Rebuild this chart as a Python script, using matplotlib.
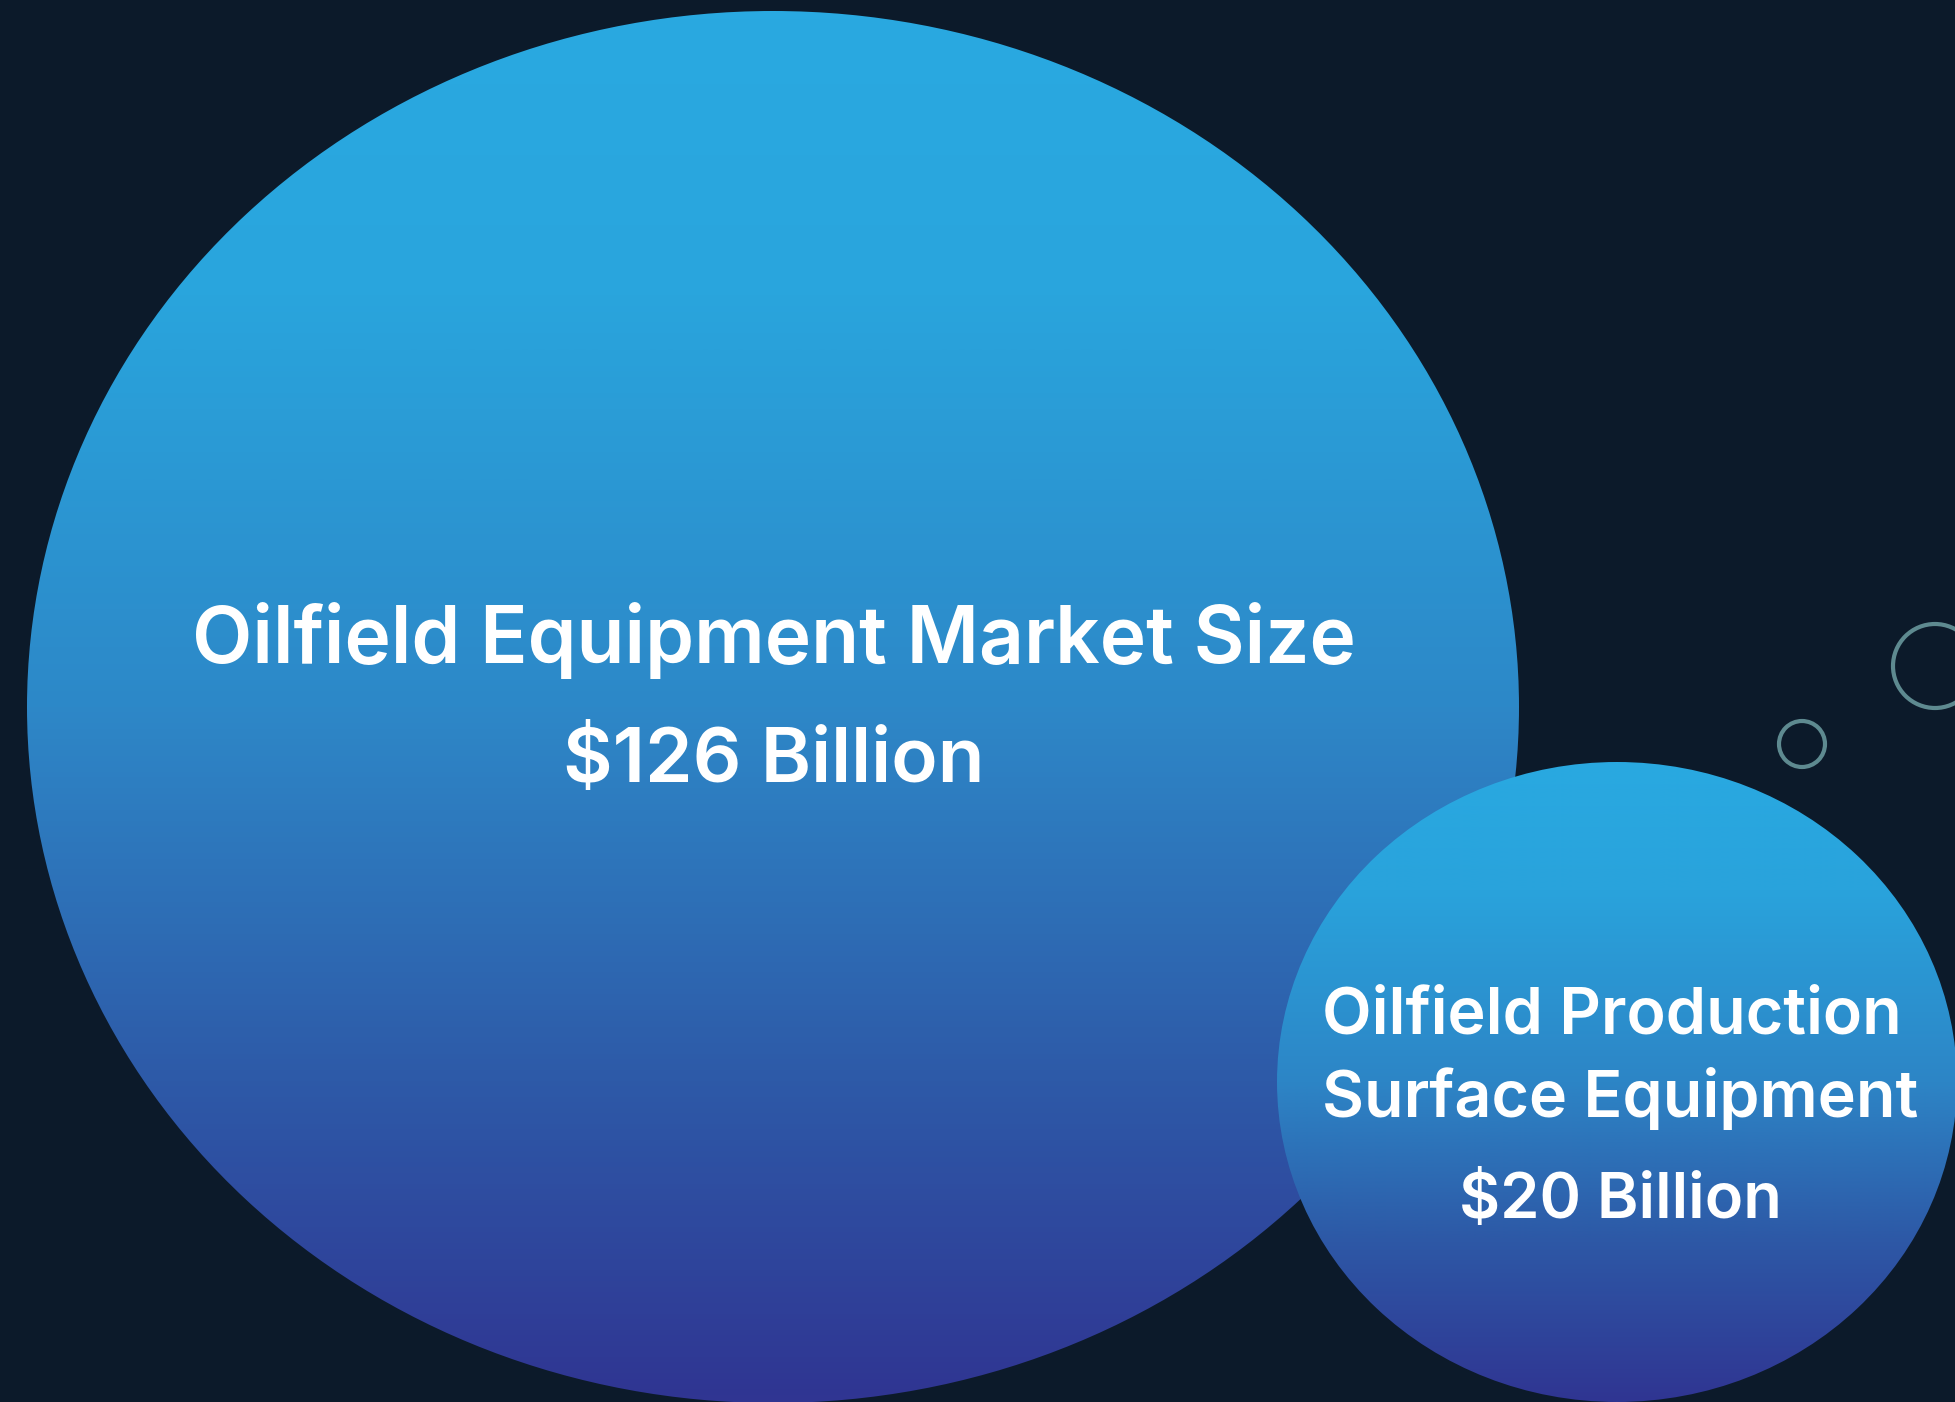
import numpy as np
import matplotlib
matplotlib.use("Agg")
import matplotlib.pyplot as plt
from matplotlib.patches import Ellipse
from matplotlib.colors import LinearSegmentedColormap

# ---- data ----
segments = ["Oilfield Equipment Market Size", "Oilfield Production\nSurface Equipment"]
values_bn = [126, 20]
value_labels = [f"${v} Billion" for v in values_bn]

# ---- style / layout ----
W, H = 1955, 1402
BG = "#0C1A2A"
grad = LinearSegmentedColormap.from_list(
    "g", [(0.0, "#29A9E1"), (0.2, "#29A5DD"), (0.5, "#2D88C8"),
          (0.75, "#2D5DAA"), (1.0, "#303592")])
grad_small = LinearSegmentedColormap.from_list(
    "g2", [(0.0, "#29A9E1"), (0.2, "#29A3DC"), (0.5, "#2D85C6"),
           (0.75, "#2D58A6"), (1.0, "#303592")])

fig = plt.figure(figsize=(W / 100, H / 100), dpi=100, facecolor=BG)
ax = fig.add_axes([0, 0, 1, 1])
ax.set_xlim(0, W)
ax.set_ylim(H, 0)
ax.set_facecolor(BG)
ax.axis("off")

# bubble geometry (center x, center y, rx, ry)
bubbles = [(773, 707, 746, 696), (1617, 1082, 340, 320)]
cmaps = [grad, grad_small]

grad_img = np.linspace(0, 1, 256).reshape(-1, 1)
for i, (cx, cy, rx, ry) in enumerate(bubbles):
    e = Ellipse((cx, cy), 2 * rx, 2 * ry, facecolor="none", edgecolor="none",
                zorder=2 + 2 * i)
    ax.add_patch(e)
    im = ax.imshow(grad_img, cmap=cmaps[i], aspect="auto",
                   extent=(cx - rx, cx + rx, cy + ry, cy - ry),
                   interpolation="bicubic", zorder=2 + 2 * i)
    im.set_clip_path(e)

# decorative outline rings
for (cx, cy, r) in [(1935, 666, 42), (1802, 744, 23)]:
    ax.add_patch(Ellipse((cx, cy), 2 * r, 2 * r, facecolor="none",
                         edgecolor="#5E8A90", lw=3.0, zorder=1))

font = dict(family=["Inter", "DejaVu Sans"], color="white", fontweight="semibold")

# big bubble texts
ax.text(774, 663, segments[0], fontsize=56.5, ha="center", va="baseline", zorder=10, **font)
ax.text(774, 782, value_labels[0], fontsize=55, ha="center", va="baseline", zorder=10, **font)

# small bubble texts
l1, l2 = segments[1].split("\n")
ax.text(1612, 1033, l1, fontsize=46.5, ha="center", va="baseline", zorder=10, **font)
ax.text(1620, 1117, l2, fontsize=46.5, ha="center", va="baseline", zorder=10, **font)
ax.text(1620, 1218, value_labels[1], fontsize=45.5, ha="center", va="baseline", zorder=10, **font)

fig.savefig("out.png", dpi=100, facecolor=BG)
